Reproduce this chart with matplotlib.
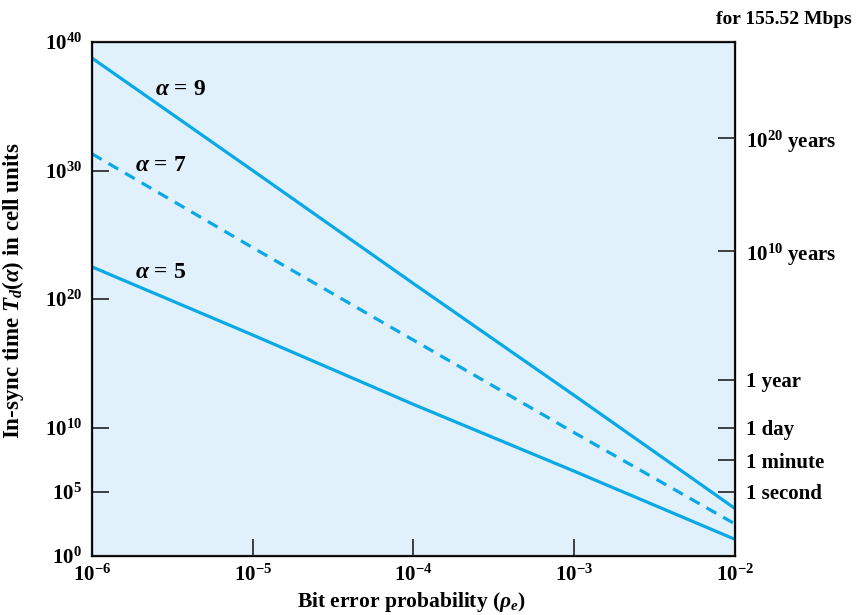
import numpy as np
import matplotlib
matplotlib.use("Agg")
import matplotlib.pyplot as plt

plt.rcParams['font.family'] = ['Liberation Serif', 'DejaVu Serif']
plt.rcParams['font.weight'] = 'bold'
plt.rcParams['axes.labelweight'] = 'bold'
plt.rcParams['mathtext.fontset'] = 'custom'
plt.rcParams['mathtext.rm'] = 'Liberation Serif:bold'
plt.rcParams['mathtext.it'] = 'Liberation Serif:italic:bold'
plt.rcParams['mathtext.bf'] = 'Liberation Serif:bold'

# bit error probability (x) and log10 of in-sync time
pe = [1e-6, 1e-5, 1e-4, 1e-3, 1e-2]
log_t_a9 = [38.75, 30.0, 21.2, 12.5, 3.7]
log_t_a7 = [31.3, 24.0, 16.8, 9.6, 2.5]
log_t_a5 = [22.5, 17.2, 11.8, 6.6, 1.3]

left_ticks = [0, 5, 10, 20, 30, 40]
x_ticks = [-6, -5, -4, -3, -2]

# right axis: time equivalents at 155.52 Mbps (log10 cells)
right_pos = [5.0, 7.45, 10.0, 13.7, 23.7, 32.5]
right_labels = ['1 second', '1 minute', '1 day', '1 year',
                r'$\mathregular{10^{10}}$ years', r'$\mathregular{10^{20}}$ years']

line_color = '#0aa9e6'

fig = plt.figure(figsize=(8.58, 6.15), dpi=100)
ax = fig.add_axes([0.1072, 0.0959, 0.7494, 0.8358])
ax.set_facecolor('#e0f1fb')

ax.plot(pe, 10.0 ** np.array(log_t_a9), color=line_color, lw=2.3)
ax.plot(pe, 10.0 ** np.array(log_t_a7), color=line_color, lw=2.3, ls=(0, (3.5, 2.5)))
ax.plot(pe, 10.0 ** np.array(log_t_a5), color=line_color, lw=2.3)

ax.set_xscale('log')
ax.set_yscale('log')
ax.set_xlim(1e-6, 1e-2)
ax.set_ylim(1e0, 1e40)

ax.set_xticks([10.0 ** k for k in x_ticks])
ax.set_xticklabels([r'$\mathregular{10^{%d}}$' % k for k in x_ticks], fontsize=15)
ax.set_yticks([10.0 ** k for k in left_ticks])
ax.set_yticklabels([r'$\mathregular{10^{%d}}$' % k for k in left_ticks], fontsize=15)
ax.minorticks_off()
ax.tick_params(axis='both', direction='in', length=12, width=1.2, colors='#222222',
               labelcolor='black')
ax.tick_params(axis='x', pad=6)
ax.tick_params(axis='y', pad=7)

for s in ax.spines.values():
    s.set_linewidth(1.6)
    s.set_color('#1a1a1a')

ax2 = ax.twinx()
ax2.set_yscale('log')
ax2.set_ylim(1e0, 1e40)
ax2.set_yticks([10.0 ** p for p in right_pos])
ax2.set_yticklabels(right_labels, fontsize=15)
ax2.minorticks_off()
ax2.tick_params(axis='y', direction='in', length=12, width=1.2, colors='#222222',
                labelcolor='black', pad=8)

ax.text(10 ** -5.61, 10 ** 36.3, r'$\alpha$ = 9', fontsize=17, va='center')
ax.text(10 ** -5.73, 10 ** 30.4, r'$\alpha$ = 7', fontsize=17, va='center')
ax.text(10 ** -5.73, 10 ** 22.1, r'$\alpha$ = 5', fontsize=17, va='center')

ax.set_xlabel(r'Bit error probability ($\rho_e$)', fontsize=15.5)
ax.xaxis.set_label_coords(0.497, -0.066)
ax.set_ylabel(r'In-sync time $T_d(\alpha)$ in cell units', fontsize=16.5)
ax.yaxis.set_label_coords(-0.102, 0.517)

fig.text(0.993, 0.968, 'for 155.52 Mbps', fontsize=14, ha='right', va='center')

fig.savefig('out.png', dpi=100)
